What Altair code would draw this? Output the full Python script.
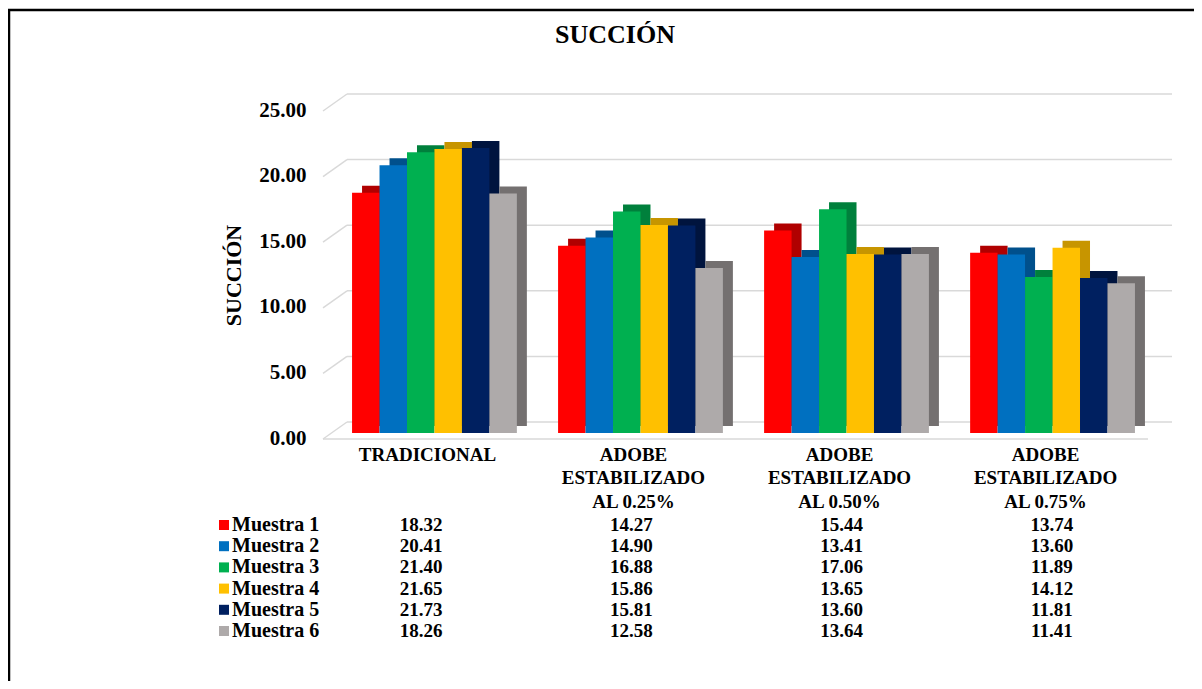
import altair as alt
import pandas as pd

# ---- data ----
categorias = ["TRADICIONAL",
              "ADOBE|ESTABILIZADO|AL 0.25%",
              "ADOBE|ESTABILIZADO|AL 0.50%",
              "ADOBE|ESTABILIZADO|AL 0.75%"]
series = ["Muestra 1", "Muestra 2", "Muestra 3", "Muestra 4", "Muestra 5", "Muestra 6"]
muestra_1 = [18.32, 14.27, 15.44, 13.74]
muestra_2 = [20.41, 14.90, 13.41, 13.60]
muestra_3 = [21.40, 16.88, 17.06, 11.89]
muestra_4 = [21.65, 15.86, 13.65, 14.12]
muestra_5 = [21.73, 15.81, 13.60, 11.81]
muestra_6 = [18.26, 12.58, 13.64, 11.41]
colores = ["#FF0000", "#0070C0", "#00B050", "#FFC000", "#002060", "#AEAAAA"]
colores_oscuros = ["#B00000", "#00508C", "#00803C", "#C79500", "#00143E", "#747070"]
y_ticks = [0, 5, 10, 15, 20, 25]
titulo = "SUCCIÓN"

valores = [muestra_1, muestra_2, muestra_3, muestra_4, muestra_5, muestra_6]
rows = []
for s, vals, c, d in zip(series, valores, colores, colores_oscuros):
    for cat, v in zip(categorias, vals):
        rows.append({"Categoria": cat, "Serie": s, "Valor": v, "color": c, "oscuro": d})
df = pd.DataFrame(rows)
leg_df = pd.DataFrame({"Serie": series, "color": colores})
grid_df = pd.DataFrame({"v": y_ticks})

FONT = "Liberation Serif"
GRID = "#D9D9D9"
PI, PO = 0.2, 0.141

x_enc = alt.X("Categoria:N", sort=categorias,
              scale=alt.Scale(paddingInner=PI, paddingOuter=PO),
              axis=alt.Axis(title=None, labelAngle=0, domain=False, ticks=False,
                            labelExpr="split(datum.label, '|')",
                            labelFont=FONT, labelFontSize=19, labelFontWeight="bold",
                            labelColor="black", labelLineHeight=23.5,
                            labelAlign="center",
                            labelPadding=12, labelOffset=-7, labelBaseline="top"))
y_enc = alt.Y("Valor:Q", scale=alt.Scale(domain=[0, 25], nice=False),
              axis=alt.Axis(values=y_ticks, format=".2f", grid=False, domain=False,
                            ticks=False, labelFont=FONT, labelFontSize=21,
                            labelFontWeight="bold", labelColor="black",
                            labelPadding=17, labelOffset=5, labelFlush=False,
                            labelOverlap=False,
                            title="SUCCIÓN", titleFont=FONT, titleFontSize=22,
                            titleFontWeight="bold", titleColor="black",
                            titleAngle=-90, titleX=-90, titleY=170,
                            titleAlign="center", titleBaseline="middle"))

grid_back = alt.Chart(grid_df).mark_rule(color=GRID, strokeWidth=1.5, yOffset=-11).encode(
    y=alt.Y("v:Q"), x=alt.value(24), x2=alt.value(849))
grid_diag = alt.Chart(grid_df).mark_rule(color=GRID, strokeWidth=1.5,
                                         yOffset=6, y2Offset=-11).encode(
    y=alt.Y("v:Q"), y2="v:Q", x=alt.value(0), x2=alt.value(24))
floor = alt.Chart(grid_df[grid_df.v == 0]).mark_rule(color=GRID, strokeWidth=1.5,
                                                     yOffset=6).encode(
    y=alt.Y("v:Q"), x=alt.value(0), x2=alt.value(825))

# depth faces: same bars on a band scale shifted 10 px right, 7 px up
back_bars = alt.Chart(df).mark_bar(yOffset=-7, y2Offset=-7).encode(
    x=alt.X("Categoria:N", sort=categorias,
            scale=alt.Scale(paddingInner=PI, paddingOuter=PO, range=[10, 851]),
            axis=None),
    xOffset=alt.XOffset("Serie:N", sort=series),
    y=alt.Y("Valor:Q"),
    color=alt.Color("oscuro:N", scale=None))
front_bars = alt.Chart(df).mark_bar().encode(
    x=x_enc,
    xOffset=alt.XOffset("Serie:N", sort=series),
    y=y_enc,
    color=alt.Color("color:N", scale=None))

plot = alt.layer(grid_back, grid_diag, floor, back_bars, front_bars).resolve_scale(
    x="independent", xOffset="independent")

row_scale = alt.Scale(type="point", range=[420, 526], padding=0)
table = alt.Chart(df).mark_text(font=FONT, fontSize=19, fontWeight="bold",
                                color="black", dx=-7, baseline="middle").encode(
    x=alt.X("Categoria:N", sort=categorias,
            scale=alt.Scale(paddingInner=PI, paddingOuter=PO), axis=None),
    y=alt.Y("Serie:N", sort=series, scale=row_scale, axis=None),
    text=alt.Text("Valor:Q", format=".2f"))
leg_sq = alt.Chart(leg_df).mark_square(size=100, opacity=1).encode(
    x=alt.value(-99),
    y=alt.Y("Serie:N", sort=series, scale=row_scale, axis=None),
    color=alt.Color("color:N", scale=None))
leg_txt = alt.Chart(leg_df).mark_text(font=FONT, fontSize=20, fontWeight="bold",
                                      color="black", align="left", baseline="middle").encode(
    x=alt.value(-91),
    y=alt.Y("Serie:N", sort=series, scale=row_scale, axis=None),
    text="Serie:N")
tabla = alt.layer(table, leg_sq, leg_txt)

one = pd.DataFrame({"t": [titulo]})
frame = alt.Chart(one).mark_rect(
    fill="white", fillOpacity=0, stroke="black", strokeWidth=2.5).encode(
    x=alt.value(-314), x2=alt.value(900), y=alt.value(-95), y2=alt.value(600))
title_txt = alt.Chart(one).mark_text(font=FONT, fontSize=26, fontWeight="bold",
                                     color="black", align="center",
                                     baseline="middle").encode(
    x=alt.value(292), y=alt.value(-70), text="t:N")

chart = alt.layer(plot, tabla, frame, title_txt).resolve_scale(
    x="independent", y="independent").properties(
    width=841, height=328,
    autosize=alt.AutoSizeParams(type="none"),
    padding={"left": 315, "top": 97, "right": 30, "bottom": 248},
    background="white",
).configure_view(stroke=None)

chart.save("out.html", embed_options={"renderer": "svg", "actions": False})
